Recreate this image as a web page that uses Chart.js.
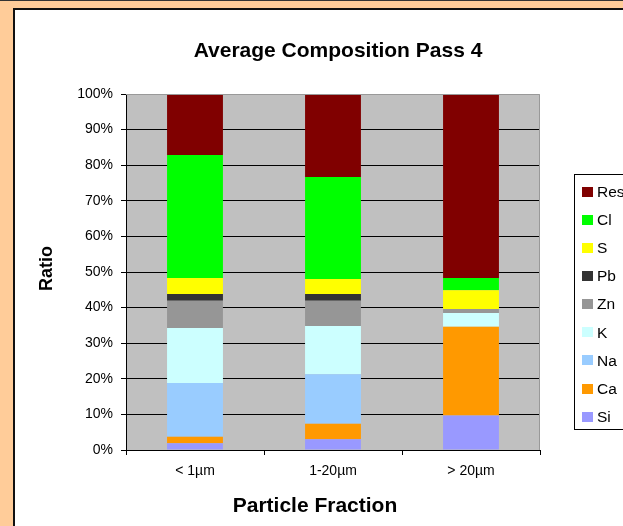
<!DOCTYPE html>
<html>
<head>
<meta charset="utf-8">
<script src="https://cdn.jsdelivr.net/npm/chart.js@4/dist/chart.umd.min.js"></script>
<style>
  html, body { margin: 0; padding: 0; }
  body {
    width: 623px; height: 526px; overflow: hidden; position: relative;
    background: #FFCC99;
  }
  #topline { position: absolute; left: 0; top: 0; width: 623px; height: 1px; background: #333; }
  #panel {
    position: absolute; left: 13px; top: 8px; width: 700px; height: 600px;
    background: #fff; border-left: 2px solid #111; border-top: 2px solid #111;
  }
  #wrap { position: absolute; left: 0; top: 0; width: 623px; height: 526px; }
</style>
</head>
<body>
<div id="topline"></div>
<div id="panel"></div>
<div id="wrap"><canvas id="c" width="623" height="526"></canvas></div>
<script>
// Particle size fractions
const categories = ['< 1µm', '1-20µm', '> 20µm'];

// Element shares (%) per fraction, stacked bottom to top
const si  = [1.9, 3.0, 9.7];
const ca  = [1.8, 4.4, 24.9];
const na  = [15.1, 13.9, 0];
const k   = [15.5, 13.5, 3.9];
const zn  = [7.6, 7.1, 1.1];
const pb  = [1.9, 1.9, 0];
const s   = [4.5, 4.2, 5.3];
const cl  = [34.6, 28.7, 3.4];
const res = [17.1, 23.3, 51.7];

const yTicks = [0, 10, 20, 30, 40, 50, 60, 70, 80, 90, 100];

const chartTitle = 'Average Composition Pass 4';
const xTitle = 'Particle Fraction';
const yTitle = 'Ratio';

const series = [
  { label: 'Si',  data: si,  color: '#9999FF' },
  { label: 'Ca',  data: ca,  color: '#FF9900' },
  { label: 'Na',  data: na,  color: '#99CCFF' },
  { label: 'K',   data: k,   color: '#CCFFFF' },
  { label: 'Zn',  data: zn,  color: '#969696' },
  { label: 'Pb',  data: pb,  color: '#333333' },
  { label: 'S',   data: s,   color: '#FFFF00' },
  { label: 'Cl',  data: cl,  color: '#00FF00' },
  { label: 'Res', data: res, color: '#800000' }
];

const FONT = '"Liberation Sans", Arial, sans-serif';

// Gray plot background with a thin frame
const plotBackground = {
  id: 'plotBackground',
  beforeDraw(chart) {
    const { ctx, chartArea: a } = chart;
    ctx.save();
    ctx.fillStyle = '#C0C0C0';
    ctx.fillRect(a.left, a.top, a.right - a.left, a.bottom - a.top);
    ctx.restore();
  },
  afterDatasetsDraw(chart) {
    const { ctx, chartArea: a } = chart;
    ctx.save();
    ctx.strokeStyle = '#999999';
    ctx.lineWidth = 1;
    ctx.beginPath();
    ctx.moveTo(a.left, a.top + 0.5);
    ctx.lineTo(a.right - 0.5, a.top + 0.5);
    ctx.lineTo(a.right - 0.5, a.bottom);
    ctx.stroke();
    ctx.restore();
  }
};

// Chart title and axis titles
const titles = {
  id: 'titles',
  afterDraw(chart) {
    const ctx = chart.ctx;
    ctx.save();
    ctx.fillStyle = '#000';
    ctx.textBaseline = 'alphabetic';
    ctx.textAlign = 'center';
    ctx.font = 'bold 21px ' + FONT;
    ctx.fillText(chartTitle, 338, 56.5);
    ctx.font = 'bold 21px ' + FONT;
    ctx.fillText(xTitle, 315, 511.5);
    ctx.translate(51.5, 268.5);
    ctx.rotate(-Math.PI / 2);
    ctx.font = 'bold 18px ' + FONT;
    ctx.fillText(yTitle, 0, 0);
    ctx.restore();
  }
};

// Legend box on the right, top entry = top of the stack
const sideLegend = {
  id: 'sideLegend',
  afterDraw(chart) {
    const ctx = chart.ctx;
    const items = chart.data.datasets.slice().reverse();
    ctx.save();
    ctx.fillStyle = '#fff';
    ctx.fillRect(574.5, 174.5, 100, 255);
    ctx.strokeStyle = '#000';
    ctx.lineWidth = 1;
    ctx.strokeRect(574.5, 174.5, 100, 255);
    ctx.font = '15.5px ' + FONT;
    ctx.textBaseline = 'middle';
    ctx.textAlign = 'left';
    items.forEach((ds, i) => {
      const cy = 191.5 + i * 28.15;
      ctx.fillStyle = ds.backgroundColor;
      ctx.fillRect(582, Math.round(cy - 5), 11, 10);
      ctx.fillStyle = '#000';
      ctx.fillText(ds.label, 597, cy + 1);
    });
    ctx.restore();
  }
};

new Chart(document.getElementById('c'), {
  type: 'bar',
  data: {
    labels: categories,
    datasets: series.map(d => ({
      label: d.label,
      data: d.data,
      backgroundColor: d.color,
      borderWidth: 0,
      barPercentage: 0.405,
      categoryPercentage: 1
    }))
  },
  options: {
    responsive: false,
    animation: false,
    layout: { padding: { left: 0, top: 94, right: 83, bottom: 0 } },
    plugins: {
      legend: { display: false },
      title: { display: false },
      tooltip: { enabled: false }
    },
    scales: {
      x: {
        stacked: true,
        afterFit(scale) { scale.height = 76; },
        border: { display: true, color: '#000', width: 1 },
        grid: {
          offset: true,
          drawOnChartArea: false,
          drawTicks: true,
          tickLength: 5,
          color: '#000'
        },
        ticks: {
          color: '#000',
          padding: 8,
          maxRotation: 0,
          font: { family: FONT, size: 14 }
        }
      },
      y: {
        stacked: true,
        min: 0,
        max: 100,
        afterFit(scale) { scale.width = 126; },
        afterBuildTicks(scale) { scale.ticks = yTicks.map(v => ({ value: v })); },
        border: { display: true, color: '#000', width: 1 },
        grid: {
          color: ctx => (ctx.tick && ctx.tick.value === 100) ? 'rgba(0,0,0,0)' : '#000',
          tickColor: '#000',
          drawTicks: true,
          tickLength: 5,
          lineWidth: 1
        },
        ticks: {
          color: '#000',
          padding: 8,
          font: { family: FONT, size: 14 },
          callback: v => v + '%'
        }
      }
    }
  },
  plugins: [plotBackground, titles, sideLegend]
});
</script>
</body>
</html>
